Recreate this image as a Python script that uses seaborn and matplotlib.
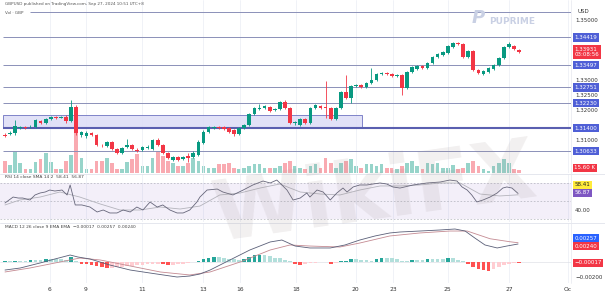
import numpy as np
import pandas as pd
import matplotlib
matplotlib.use("Agg")
import matplotlib.pyplot as plt
import matplotlib.transforms as mtransforms
from matplotlib.patches import Rectangle
from matplotlib.lines import Line2D
import seaborn as sns

sns.set_theme(style="white")
plt.rcParams['font.family'] = ['DejaVu Sans']

# ---------------- data ----------------
opens = [1.31183, 1.31200, 1.31233, 1.31400, 1.31433, 1.31417, 1.31433, 1.31633, 1.31567, 1.31700,
         1.31767, 1.31750, 1.31767, 1.31633, 1.32100, 1.31167, 1.31133, 1.31233, 1.31167, 1.30833,
         1.30800, 1.30933, 1.30700, 1.30567, 1.30767, 1.30833, 1.30683, 1.30667, 1.30750, 1.30700,
         1.31000, 1.30833, 1.30567, 1.30333, 1.30433, 1.30367, 1.30467, 1.30433, 1.30500, 1.30900,
         1.31267, 1.31400, 1.31433, 1.31433, 1.31400, 1.31333, 1.31200, 1.31400, 1.31500, 1.31867,
         1.32033, 1.32067, 1.32100, 1.32000, 1.32033, 1.32267, 1.32067, 1.31567, 1.31500, 1.31700,
         1.31567, 1.32067, 1.32133, 1.32100, 1.32067, 1.31700, 1.32067, 1.32600, 1.32400, 1.32800,
         1.32833, 1.32767, 1.32900, 1.33000, 1.33200, 1.33233, 1.33200, 1.33133, 1.33167, 1.32733,
         1.33267, 1.33367, 1.33467, 1.33400, 1.33567, 1.33767, 1.33833, 1.33900, 1.34100, 1.34233,
         1.34200, 1.33767, 1.33967, 1.33333, 1.33200, 1.33267, 1.33367, 1.33500, 1.33733, 1.34100,
         1.34133, 1.34000]
closes = [1.31150, 1.31233, 1.31467, 1.31417, 1.31400, 1.31450, 1.31667, 1.31567, 1.31700, 1.31767,
          1.31750, 1.31767, 1.31633, 1.32100, 1.31233, 1.31267, 1.31233, 1.31167, 1.30833, 1.30817,
          1.30933, 1.30700, 1.30567, 1.30733, 1.30833, 1.30700, 1.30650, 1.30767, 1.30783, 1.31000,
          1.30833, 1.30567, 1.30400, 1.30433, 1.30333, 1.30433, 1.30400, 1.30567, 1.30933, 1.31267,
          1.31433, 1.31433, 1.31400, 1.31367, 1.31267, 1.31200, 1.31400, 1.31500, 1.31867, 1.32067,
          1.32067, 1.32133, 1.31967, 1.32033, 1.32267, 1.32067, 1.31567, 1.31600, 1.31700, 1.31567,
          1.32067, 1.32167, 1.32067, 1.32083, 1.31700, 1.32067, 1.32600, 1.32400, 1.32800, 1.32833,
          1.32767, 1.32900, 1.33000, 1.33200, 1.33233, 1.33200, 1.33133, 1.33167, 1.32733, 1.33267,
          1.33433, 1.33467, 1.33400, 1.33567, 1.33767, 1.33867, 1.33933, 1.34133, 1.34233, 1.34200,
          1.33767, 1.33967, 1.33333, 1.33233, 1.33300, 1.33400, 1.33500, 1.33733, 1.34100, 1.34200,
          1.34033, 1.33931]
highs = [1.31233, 1.31300, 1.31667, 1.31467, 1.31467, 1.31500, 1.31700, 1.31667, 1.31733, 1.31800,
         1.31800, 1.31800, 1.31833, 1.32333, 1.32167, 1.31300, 1.31300, 1.31267, 1.31200, 1.30867,
         1.30967, 1.30967, 1.30733, 1.30767, 1.31033, 1.30867, 1.30733, 1.30800, 1.30833, 1.31033,
         1.31067, 1.30867, 1.30600, 1.30467, 1.30467, 1.30467, 1.30567, 1.30633, 1.31000, 1.31333,
         1.31467, 1.31467, 1.31467, 1.31467, 1.31433, 1.31367, 1.31433, 1.31533, 1.31900, 1.32100,
         1.32200, 1.32167, 1.32133, 1.32067, 1.32300, 1.32333, 1.32100, 1.31633, 1.31733, 1.31733,
         1.32100, 1.32200, 1.32167, 1.32967, 1.32100, 1.32100, 1.32633, 1.33167, 1.32833, 1.32867,
         1.32867, 1.32933, 1.33400, 1.33233, 1.33267, 1.33267, 1.33233, 1.33200, 1.33200, 1.33300,
         1.33467, 1.33500, 1.33500, 1.33600, 1.33800, 1.33900, 1.33967, 1.34167, 1.34267, 1.34267,
         1.34233, 1.34000, 1.34000, 1.33367, 1.33333, 1.33433, 1.33533, 1.33767, 1.34133, 1.34267,
         1.34167, 1.34033]
lows = [1.31100, 1.31167, 1.31167, 1.31367, 1.31367, 1.31400, 1.31400, 1.31533, 1.31533, 1.31667,
        1.31700, 1.31733, 1.31567, 1.31600, 1.31167, 1.31100, 1.31067, 1.31133, 1.30800, 1.30767,
        1.30767, 1.30667, 1.30533, 1.30533, 1.30733, 1.30667, 1.30600, 1.30633, 1.30700, 1.30667,
        1.30800, 1.30533, 1.30367, 1.30300, 1.30300, 1.30333, 1.30267, 1.30400, 1.30467, 1.30867,
        1.31233, 1.31367, 1.31367, 1.31333, 1.31233, 1.31133, 1.31167, 1.31367, 1.31467, 1.31833,
        1.32000, 1.32033, 1.31933, 1.31967, 1.32000, 1.32033, 1.31533, 1.31500, 1.31467, 1.31533,
        1.31533, 1.32033, 1.32033, 1.31733, 1.31667, 1.31667, 1.32033, 1.32367, 1.32233, 1.32767,
        1.32733, 1.32733, 1.32867, 1.32967, 1.33167, 1.33167, 1.33100, 1.33100, 1.32500, 1.32700,
        1.33233, 1.33333, 1.33367, 1.33367, 1.33533, 1.33733, 1.33800, 1.33867, 1.34067, 1.34167,
        1.33733, 1.33733, 1.33300, 1.33200, 1.33167, 1.33233, 1.33333, 1.33467, 1.33700, 1.34067,
        1.34000, 1.33900]
volume_k = [60, 40, 110, 50, 20, 20, 55, 70, 100, 55, 20, 20, 60, 90, 210, 75, 20, 20, 60, 60,
            75, 50, 20, 20, 55, 70, 95, 35, 35, 75, 110, 85, 60, 50, 35, 35, 50, 75, 60, 35,
            25, 25, 45, 45, 50, 25, 20, 25, 35, 45, 45, 25, 25, 25, 35, 50, 60, 35, 25, 20,
            35, 45, 25, 75, 50, 25, 50, 60, 70, 35, 25, 45, 45, 35, 45, 25, 25, 20, 35, 50,
            60, 35, 20, 50, 45, 50, 25, 25, 40, 20, 25, 50, 60, 35, 20, 10, 35, 50, 70, 50,
            20, 15.6]

rsi_idx = [0, 1.6, 2.6, 3.5, 4.9, 5.9, 6.9, 7.9, 8.8, 9.8, 11.2, 12.2, 12.8, 13.8, 15.1, 16.7, 18.1,
           19.3, 20.6, 22.0, 23.2, 24.6, 25.9, 27.1, 28.5, 29.9, 31.0, 32.4, 33.8, 35.0, 36.3, 37.7,
           38.3, 39.7, 41.7, 42.8, 44.8, 46.8, 48.7, 50.7, 52.1, 53.4, 54.4, 55.4, 56.6, 58.0, 59.3,
           59.9, 61.3, 62.5, 63.9, 65.2, 66.4, 67.2, 68.4, 69.7, 71.1, 72.3, 73.7, 75.0, 76.2, 77.6,
           80.2, 82.9, 85.5, 87.4, 88.8, 89.8, 90.8, 91.7, 92.7, 93.9, 95.3, 96.7, 97.8, 98.6, 99.6,
           100.8]
rsi_val = [47.8, 54.4, 53.3, 53.3, 51.1, 56.7, 58.9, 60.0, 62.2, 61.1, 62.2, 56.7, 67.8, 45.6, 45.6,
           43.3, 37.8, 40.0, 36.7, 36.7, 40.0, 37.8, 43.3, 40.0, 48.9, 43.3, 45.6, 40.0, 36.7, 36.7,
           40.0, 48.9, 54.4, 62.2, 63.3, 60.0, 56.7, 62.2, 67.8, 72.2, 70.0, 73.3, 67.8, 62.2, 51.1,
           53.3, 58.9, 54.4, 62.2, 60.0, 51.1, 58.9, 64.4, 60.0, 65.6, 67.8, 67.8, 68.9, 70.0, 68.9,
           65.6, 64.4, 67.8, 70.0, 71.1, 73.3, 72.2, 65.6, 62.2, 56.7, 48.9, 51.1, 54.4, 58.9, 64.4,
           65.6, 64.4, 58.41]
rsi_ma_idx = [0, 2.9, 6.9, 10.8, 14.7, 18.7, 22.6, 26.5, 30.5, 34.4, 38.3, 42.2, 46.2, 50.1, 54.0,
              58.0, 61.9, 65.8, 69.7, 73.7, 77.6, 81.5, 85.5, 89.4, 93.3, 97.2, 100.8]
rsi_ma_val = [45.6, 51.1, 54.4, 60.0, 54.4, 46.7, 40.0, 40.0, 43.3, 41.1, 44.4, 56.7, 58.9, 64.4,
              68.9, 60.0, 57.8, 56.7, 62.2, 66.7, 66.7, 67.8, 70.0, 70.0, 57.8, 55.6, 56.87]

macd_idx = [0, 3.0, 6.9, 9.8, 12.8, 14.3, 16.7, 20.6, 24.6, 28.5, 33.8, 36.3, 38.3, 40.3, 44.2,
            48.1, 52.1, 54.4, 57.0, 59.9, 63.9, 66.8, 69.7, 72.7, 75.6, 77.6, 81.5, 85.5, 88.4,
            90.4, 92.3, 94.3, 96.7, 98.6, 100.8]
macd_val = [-0.00107, -0.00080, -0.00013, 0.00040, 0.00093, 0.00067, 0.00040, -0.00040, -0.00107,
            -0.00147, -0.00200, -0.00187, -0.00160, -0.00107, 0.00027, 0.00160, 0.00267, 0.00293,
            0.00213, 0.00187, 0.00187, 0.00227, 0.00293, 0.00347, 0.00387, 0.00400, 0.00413,
            0.00427, 0.00440, 0.00413, 0.00320, 0.00227, 0.00187, 0.00213, 0.00240]
signal_idx = [0, 4.9, 10.8, 14.7, 18.7, 24.6, 30.5, 36.3, 40.3, 46.2, 52.1, 56.0, 59.9, 65.8,
              69.7, 75.6, 81.5, 87.4, 90.8, 95.3, 99.2, 100.8]
signal_val = [-0.00133, -0.00080, 0.00000, 0.00053, 0.00027, -0.00053, -0.00133, -0.00173,
              -0.00133, 0.00000, 0.00160, 0.00227, 0.00213, 0.00200, 0.00253, 0.00347, 0.00387,
              0.00413, 0.00413, 0.00310, 0.00270, 0.00257]
hist_vals = [0.0001, 0.0001, 0.0002, 0.0002, 0.0002, 0.0003, 0.0003, 0.0003, 0.0004, 0.0004,
             0.0004, 0.0004, 0.0003, 0.0007, 0.0002, -0.0002, -0.0003, -0.0004, -0.0005, -0.0007,
             -0.0008, -0.0008, -0.0007, -0.0006, -0.0005, -0.0005, -0.0004, -0.0004, -0.0003, -0.0002,
             -0.0002, -0.0003, -0.0004, -0.0004, -0.0003, -0.0002, -0.0001, 0.0000, 0.0002, 0.0004,
             0.0006, 0.0007, 0.0007, 0.0005, 0.0004, 0.0004, 0.0003, 0.0004, 0.0007, 0.0009,
             0.0010, 0.0010, 0.0008, 0.0006, 0.0005, 0.0003, 0.0001, -0.0002, -0.0004, -0.0003,
             -0.0001, -0.0001, 0.0000, 0.0000, -0.0002, -0.0001, 0.0001, 0.0002, 0.0004, 0.0004,
             0.0003, 0.0003, 0.0002, 0.0004, 0.0005, 0.0005, 0.0005, 0.0004, 0.0002, 0.0002,
             0.0003, 0.0003, 0.0003, 0.0004, 0.0004, 0.0004, 0.0004, 0.0005, 0.0005, 0.0003,
             0.0001, -0.0002, -0.0006, -0.0009, -0.0011, -0.0012, -0.0009, -0.0006, -0.0004, -0.0002,
             -0.0001, -0.00017]

level_prices = [1.35267, 1.34419, 1.33497, 1.32751, 1.32230, 1.31400, 1.30633]
level_labels = ["", "1.34419", "1.33497", "1.32751", "1.32230", "1.31400", "1.30633"]
zone_prices = [1.31400, 1.31833]
date_labels = ["6", "9", "11", "13", "16", "18", "20", "23", "25", "27", "Oc"]
date_pos = [8.84, 15.9, 26.9, 38.9, 46.2, 57.2, 68.9, 76.2, 87.0, 99.0, 110.6]
price_ticks = [1.31, 1.32, 1.325, 1.33, 1.35]

# ---------------- figure / layout ----------------
W, H = 605, 301
fig = plt.figure(figsize=(W / 100, H / 100), dpi=100)
fig.patch.set_facecolor("white")
PR = 571  # right edge of plot area (px)


def ax_at(top, bottom):
    return fig.add_axes([0, 1 - bottom / H, PR / W, (bottom - top) / H])


ax = ax_at(0, 173)
ax_r = ax_at(174, 222)
ax_m = ax_at(223, 283)

n = len(opens)
idx = np.arange(n)
df = pd.DataFrame({"i": idx, "open": opens, "close": closes, "high": highs,
                   "low": lows, "vol": volume_k})
df["up"] = df["close"] >= df["open"]
GREEN, RED = "#089981", "#f23645"
XL = (-0.98, 111.2)

# volume behind candles
axv = ax.twinx()
ax.set_zorder(2)
axv.set_zorder(1)
ax.patch.set_visible(False)
vcol = [GREEN if u else RED for u in df["up"]]
axv.bar(df["i"], df["vol"], width=0.72, color=vcol, alpha=0.42, linewidth=0)
axv.set_ylim(0, 865)
axv.set_xlim(*XL)
axv.axis("off")

for a in (ax, ax_r, ax_m):
    a.set_xlim(*XL)
    for s in a.spines.values():
        s.set_visible(False)
    for p in date_pos:
        a.axvline(p, color="#eef0f6", lw=0.6, zorder=0)

# price levels and zone
ax.add_patch(Rectangle((-0.4, zone_prices[0]), 70.5, zone_prices[1] - zone_prices[0],
                       facecolor="#dcdcf6", edgecolor="#6b70c0", lw=0.7, alpha=0.85, zorder=1))
for p in level_prices:
    strong = abs(p - 1.314) < 1e-6
    start = 4.9 if p > 1.35 else -0.4
    ax.plot([start, XL[1]], [p, p], color="#5a5fb0" if strong else "#8b90b8",
            lw=1.5 if strong else 0.7, zorder=1.5, solid_capstyle="butt")

# candles
col = np.where(df["up"], GREEN, RED)
ax.vlines(df["i"], df["low"], df["high"], colors=col, lw=0.6, zorder=3)
body_lo = np.minimum(df["open"], df["close"])
body_h = np.maximum(np.abs(df["close"] - df["open"]), 0.00012)
ax.bar(df["i"], body_h, bottom=body_lo, width=0.72, color=col, linewidth=0, zorder=4)
ax.set_ylim(1.299, 1.356667)

ax.yaxis.tick_right()
ax.set_yticks(price_ticks)
ax.set_yticklabels([f"{t:.5f}" for t in price_ticks])
ax.tick_params(axis="y", length=0, pad=3, labelsize=4, labelcolor="#333333")
ax.tick_params(axis="x", bottom=False, labelbottom=False)

blend = lambda a: mtransforms.blended_transform_factory(a.transAxes, a.transData)


def box(a, y, text, fc, tc="white"):
    a.text(1.006, y, text, transform=blend(a), ha="left", va="center", fontsize=4,
           color=tc, zorder=10, clip_on=False,
           bbox=dict(boxstyle="square,pad=0.3", fc=fc, ec="none"))


for p, lab in zip(level_prices, level_labels):
    if lab:
        box(ax, p, lab, "#4f5fd6")
box(ax, 1.33931, "1.33931\n03:08:56", RED)
box(ax, 1.30067, "15.60 K", RED)
ax.text(1.012, 1.3527, "USD", transform=blend(ax), ha="left", va="center",
        fontsize=4, color="#333333", clip_on=False)

# RSI pane
ax_r.axhspan(30, 70, color="#7e57c2", alpha=0.09, lw=0, zorder=0)
for lvl in (70, 50, 30):
    ax_r.axhline(lvl, color="#a0a3ad", lw=0.4, ls=(0, (3, 3)), zorder=0.5)
sns.lineplot(x=rsi_ma_idx, y=rsi_ma_val, ax=ax_r, color="#b4b4bc", lw=0.6)
sns.lineplot(x=rsi_idx, y=rsi_val, ax=ax_r, color="#66667a", lw=0.6)
ax_r.set_ylim(26.67, 80)
ax_r.yaxis.tick_right()
ax_r.set_yticks([40])
ax_r.set_yticklabels(["40.00"])
ax_r.tick_params(axis="y", length=0, pad=3, labelsize=4, labelcolor="#333333")
ax_r.tick_params(axis="x", bottom=False, labelbottom=False)
ax_r.set_xlabel("")
ax_r.set_ylabel("")
box(ax_r, 67.8, "58.41", "#ffeb3b", "#222222")
box(ax_r, 58.9, "56.87", "#7e57c2")
ax_r.text(0.009, 0.98, "RSI 14 close SMA 14 2  58.41  56.87", transform=ax_r.transAxes,
          fontsize=3.2, color="#444444", va="top", ha="left")

# MACD pane
hcols = []
for k, h in enumerate(hist_vals):
    prev = hist_vals[k - 1] if k > 0 else 0
    if h >= 0:
        hcols.append("#26a69a" if h > prev else "#b2dfdb")
    else:
        hcols.append("#ff5252" if h < prev else "#ffcdd2")
ax_m.bar(idx, hist_vals, width=0.72, color=hcols, linewidth=0, zorder=1)
ax_m.axhline(0, color="#d8dae2", lw=0.4, zorder=0.5)
sns.lineplot(x=signal_idx, y=signal_val, ax=ax_m, color="#c48a92", lw=0.6)
sns.lineplot(x=macd_idx, y=macd_val, ax=ax_m, color="#5a5f78", lw=0.6)
ax_m.set_ylim(-0.0028, 0.0052)
ax_m.yaxis.tick_right()
ax_m.set_yticks([-0.002])
ax_m.set_yticklabels(["\u22120.00200"])
ax_m.tick_params(axis="y", length=0, pad=3, labelsize=4, labelcolor="#333333")
ax_m.set_xticks(date_pos)
ax_m.set_xticklabels(date_labels)
ax_m.tick_params(axis="x", length=0, pad=3, labelsize=4.3, labelcolor="#333333")
ax_m.set_xlabel("")
ax_m.set_ylabel("")
box(ax_m, 0.0032, "0.00257", "#2962ff")
box(ax_m, 0.00213, "0.00240", RED)
box(ax_m, -0.00013, "\u22120.00017", RED)
ax_m.text(0.009, 0.97, "MACD 12 26 close 9 EMA EMA  \u22120.00017  0.00257  0.00240",
          transform=ax_m.transAxes, fontsize=3.2, color="#444444", va="top", ha="left")

# separators and borders
for yy in (173.5, 222.5):
    fig.add_artist(Line2D([0, 1], [1 - yy / H, 1 - yy / H], color="#e0e3eb", lw=0.6))
fig.add_artist(Line2D([PR / W, PR / W], [1 - 283 / H, 1], color="#e6e8ef", lw=0.5))

# header texts
fig.text(5 / W, 1 - 4 / H, "GBPUSD published on TradingView.com, Sep 27, 2024 10:51 UTC+8",
         fontsize=3.0, color="#555555", va="center", ha="left")
fig.text(5 / W, 1 - 12.5 / H, "Vol \u00b7 GBP", fontsize=3.0, color="#555555",
         va="center", ha="left")

# watermarks
fig.text(472 / W, 1 - 18 / H, "P", fontsize=13, color="#c9d0e4", style="italic",
         weight="bold", va="center", ha="left")
fig.text(489 / W, 1 - 21 / H, "PUPRIME", fontsize=6.5, color="#c9d0e4", weight="bold",
         va="center", ha="left")
fig.text(375 / W, 1 - 195 / H, "WikiFX", fontsize=60, color="#9a8c8c", alpha=0.13,
         rotation=8, weight="bold", va="center", ha="center")

fig.savefig("out.png", dpi=100)
